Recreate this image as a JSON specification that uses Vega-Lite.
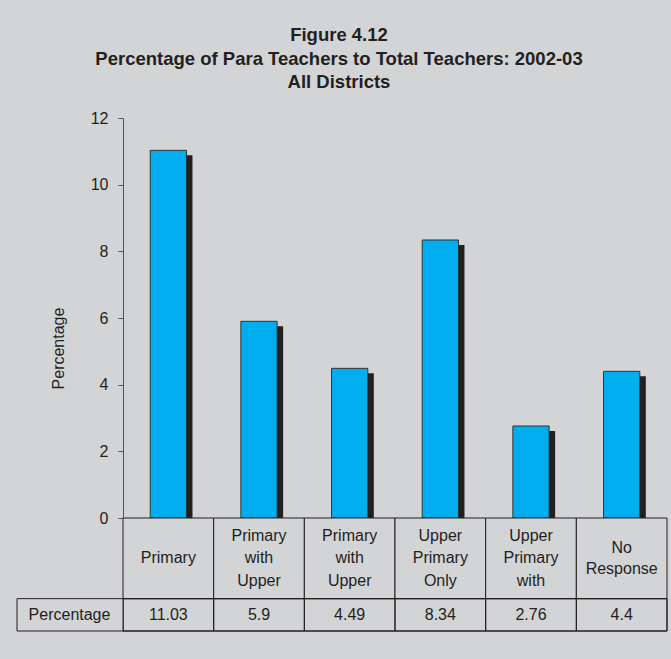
{
  "$schema": "https://vega.github.io/schema/vega-lite/v6.json",
  "autosize": "none",
  "width": 650,
  "height": 513,
  "padding": {"left": 17, "top": 118, "right": 4, "bottom": 28},
  "background": "#d3d4d6",
  "view": {"stroke": null},
  "config": {
    "font": "Liberation Sans",
    "text": {"font": "Liberation Sans", "fontSize": 16, "color": "#231f20"}
  },
  "title": {
    "text": ["Figure 4.12", "Percentage of Para Teachers to Total Teachers: 2002-03", "All Districts"],
    "font": "Liberation Sans",
    "fontSize": 18.5,
    "fontWeight": "bold",
    "color": "#231f20",
    "anchor": "middle",
    "lineHeight": 23.5,
    "offset": 18.5,
    "dx": -3
  },
  "data": {
    "values": [
      {"column": "Primary", "label": "Primary", "percentage": 11.03},
      {"column": "Primary with Upper Primary", "label": "Primary|with|Upper", "percentage": 5.9},
      {"column": "Primary with Upper Primary and Secondary", "label": "Primary|with|Upper", "percentage": 4.49},
      {"column": "Upper Primary Only", "label": "Upper|Primary|Only", "percentage": 8.34},
      {"column": "Upper Primary with Secondary", "label": "Upper|Primary|with", "percentage": 2.76},
      {"column": "No Response", "label": "No|Response", "percentage": 4.4}
    ]
  },
  "encoding": {
    "x": {
      "field": "column",
      "type": "nominal",
      "sort": null,
      "scale": {"paddingInner": 0, "paddingOuter": 0.5846, "align": 1},
      "axis": null
    }
  },
  "layer": [
    {
      "mark": {"type": "bar", "color": "#231f20", "width": {"band": 0.4}, "xOffset": 6, "yOffset": 5},
      "encoding": {
        "y": {
          "field": "percentage",
          "type": "quantitative",
          "scale": {"domain": [-3.39, 12], "nice": false, "zero": false},
          "axis": {
            "orient": "left",
            "offset": -106,
            "values": [-2.907, 0, 2, 4, 6, 8, 10, 12],
            "labelExpr": "datum.value < 0 ? 'Percentage' : datum.label",
            "labelOverlap": false,
            "grid": false,
            "tickSize": 5,
            "tickColor": "#555555",
            "tickOpacity": {"condition": {"test": "datum.value < 0", "value": 0}, "value": 1},
            "domainColor": "#555555",
            "labelAlign": {"condition": {"test": "datum.value < 0", "value": "center"}, "value": "right"},
            "labelPadding": {"condition": {"test": "datum.value < 0", "value": 49}, "value": 10},
            "labelFont": "Liberation Sans",
            "labelFontSize": 16,
            "labelColor": "#231f20",
            "title": "Percentage",
            "titleFont": "Liberation Sans",
            "titleFontSize": 16,
            "titleFontWeight": "normal",
            "titleColor": "#231f20",
            "titleAngle": -90,
            "titleAlign": "center",
            "titleBaseline": "middle",
            "titleX": -65,
            "titleY": 230
          }
        }
      }
    },
    {
      "mark": {"type": "bar", "color": "#00aeef", "stroke": "#333333", "strokeWidth": 1, "width": {"band": 0.4}},
      "encoding": {
        "y": {"field": "percentage", "type": "quantitative"}
      }
    },
    {
      "mark": {"type": "rect", "fill": "#d3d4d6", "stroke": "#231f20", "strokeWidth": 1},
      "encoding": {
        "y": {"datum": 0},
        "y2": {"datum": -2.42}
      }
    },
    {
      "mark": {"type": "rect", "fill": null, "fillOpacity": 0, "stroke": "#231f20", "strokeWidth": 1},
      "encoding": {
        "y": {"datum": -2.42},
        "y2": {"datum": -3.39}
      }
    },
    {
      "transform": [{"aggregate": [{"op": "count", "as": "n"}]}],
      "mark": {"type": "rect", "fill": null, "fillOpacity": 0, "stroke": "#231f20", "strokeWidth": 1},
      "encoding": {
        "x": null,
        "y": {"datum": -2.42},
        "y2": {"datum": -3.39}
      }
    },
    {
      "transform": [{"filter": "length(split(datum.label, '|')) == 1"}],
      "mark": {"type": "text", "lineBreak": "|", "lineHeight": 22, "baseline": "middle", "align": "center"},
      "encoding": {
        "y": {"datum": -1.21},
        "text": {"field": "label", "type": "nominal"}
      }
    },
    {
      "transform": [{"filter": "length(split(datum.label, '|')) == 2"}],
      "mark": {"type": "text", "lineBreak": "|", "lineHeight": 21, "baseline": "middle", "align": "center", "dy": -10.5},
      "encoding": {
        "y": {"datum": -1.21},
        "text": {"field": "label", "type": "nominal"}
      }
    },
    {
      "transform": [{"filter": "length(split(datum.label, '|')) == 3"}],
      "mark": {"type": "text", "lineBreak": "|", "lineHeight": 22.5, "baseline": "middle", "align": "center", "dy": -22.5},
      "encoding": {
        "y": {"datum": -1.21},
        "text": {"field": "label", "type": "nominal"}
      }
    },
    {
      "mark": {"type": "text", "baseline": "middle", "align": "center"},
      "encoding": {
        "y": {"datum": -2.907},
        "text": {"field": "percentage", "type": "quantitative"}
      }
    }
  ]
}
